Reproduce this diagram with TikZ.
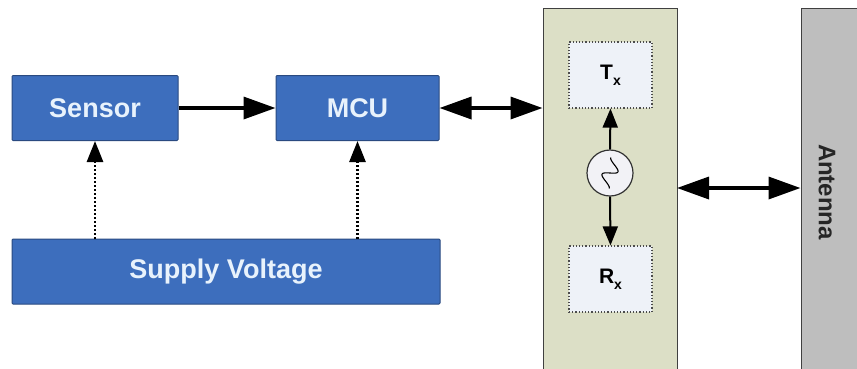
\documentclass[tikz,border=0pt]{standalone}
\usepackage{fontspec}
\setmainfont{Liberation Sans}
\usetikzlibrary{arrows.meta}
\definecolor{boxblue}{HTML}{3D6EBD}
\definecolor{blueedge}{HTML}{2A4A80}
\definecolor{bluetext}{HTML}{E8F2FC}
\definecolor{radiofill}{HTML}{DCDFC6}
\definecolor{txfill}{HTML}{EEF2F8}
\definecolor{antfill}{HTML}{BEBEBE}
\definecolor{oscfill}{HTML}{F2F2F6}
\begin{document}
\begin{tikzpicture}[x=1pt,y=-1pt,
  bluebox/.style={draw=blueedge, fill=boxblue, line width=1pt, rounded corners=1pt, text=bluetext,
    font=\fontsize{27}{32}\selectfont\bfseries, inner sep=0pt, minimum height=65pt},
  tallbox/.style={draw=black!75, line width=1pt, inner sep=0pt, minimum height=380pt},
  trxbox/.style={draw=black!70, fill=txfill, dotted, line width=1.2pt, inner sep=0pt,
    minimum width=83pt, minimum height=66pt, font=\fontsize{21}{25}\selectfont\bfseries},
  bigarrow/.style={line width=3.5pt, -{Triangle[length=32pt,width=22pt]}},
  dblarrow/.style={line width=3.5pt, {Triangle[length=32pt,width=22pt]}-{Triangle[length=32pt,width=22pt]}},
  dotarrow/.style={line width=2.8pt, dash pattern=on 2pt off 2pt, -{Triangle[length=21pt,width=16pt]}},
  smallarrow/.style={line width=2pt, -{Triangle[length=19pt,width=15pt]}}]
\useasboundingbox (0,0) rectangle (857,368);
\clip (0,0) rectangle (857,368);
\fill[white] (0,0) rectangle (857,368);
% blue boxes
\node[bluebox, minimum width=166pt] (sensor) at (95,108) {Sensor};
\node[bluebox, minimum width=163pt] (mcu) at (357.5,108) {MCU};
\node[bluebox, minimum width=428pt] (supply) at (226,271.5) {Supply Voltage};
% radio and antenna
\node[tallbox, fill=radiofill, minimum width=134pt] (radio) at (610,198) {};
\node[tallbox, fill=antfill, minimum width=70pt] (ant) at (836,198) {};
\node[rotate=-90, font=\fontsize{24}{28}\selectfont\bfseries, text=black!85] (antlabel) at (827,192) {Antenna};
% Tx / Rx
\node[trxbox] (tx) at (610.5,75) {T\raisebox{-0.3em}{\fontsize{14}{14}\selectfont x}};
\node[trxbox] (rx) at (610.5,279) {R\raisebox{-0.3em}{\fontsize{14}{14}\selectfont x}};
% oscillator
\node[draw=black!80, fill=oscfill, circle, line width=1.2pt, minimum size=46pt, inner sep=0pt] (osc) at (610,173) {};
\draw[line width=1.1pt, rotate around={62:(osc.center)}] plot[domain=-14:14, samples=60, smooth]
  ({610+\x}, {173+6.5*sin(\x*19.3)});
% connectors
\draw[bigarrow] (sensor.east) -- (mcu.west);
\draw[dblarrow] (mcu.east) -- (mcu.east -| radio.west);
\coordinate (rr) at (677,188);
\draw[dblarrow] (rr) -- (rr -| ant.west);
\draw[dotarrow] (supply.north -| sensor.south) -- (sensor.south);
\draw[dotarrow] (supply.north -| mcu.south) -- (mcu.south);
\draw[smallarrow] (osc.north) -- (tx.south);
\draw[smallarrow] (osc.south) -- (rx.north);
\end{tikzpicture}
\end{document}
